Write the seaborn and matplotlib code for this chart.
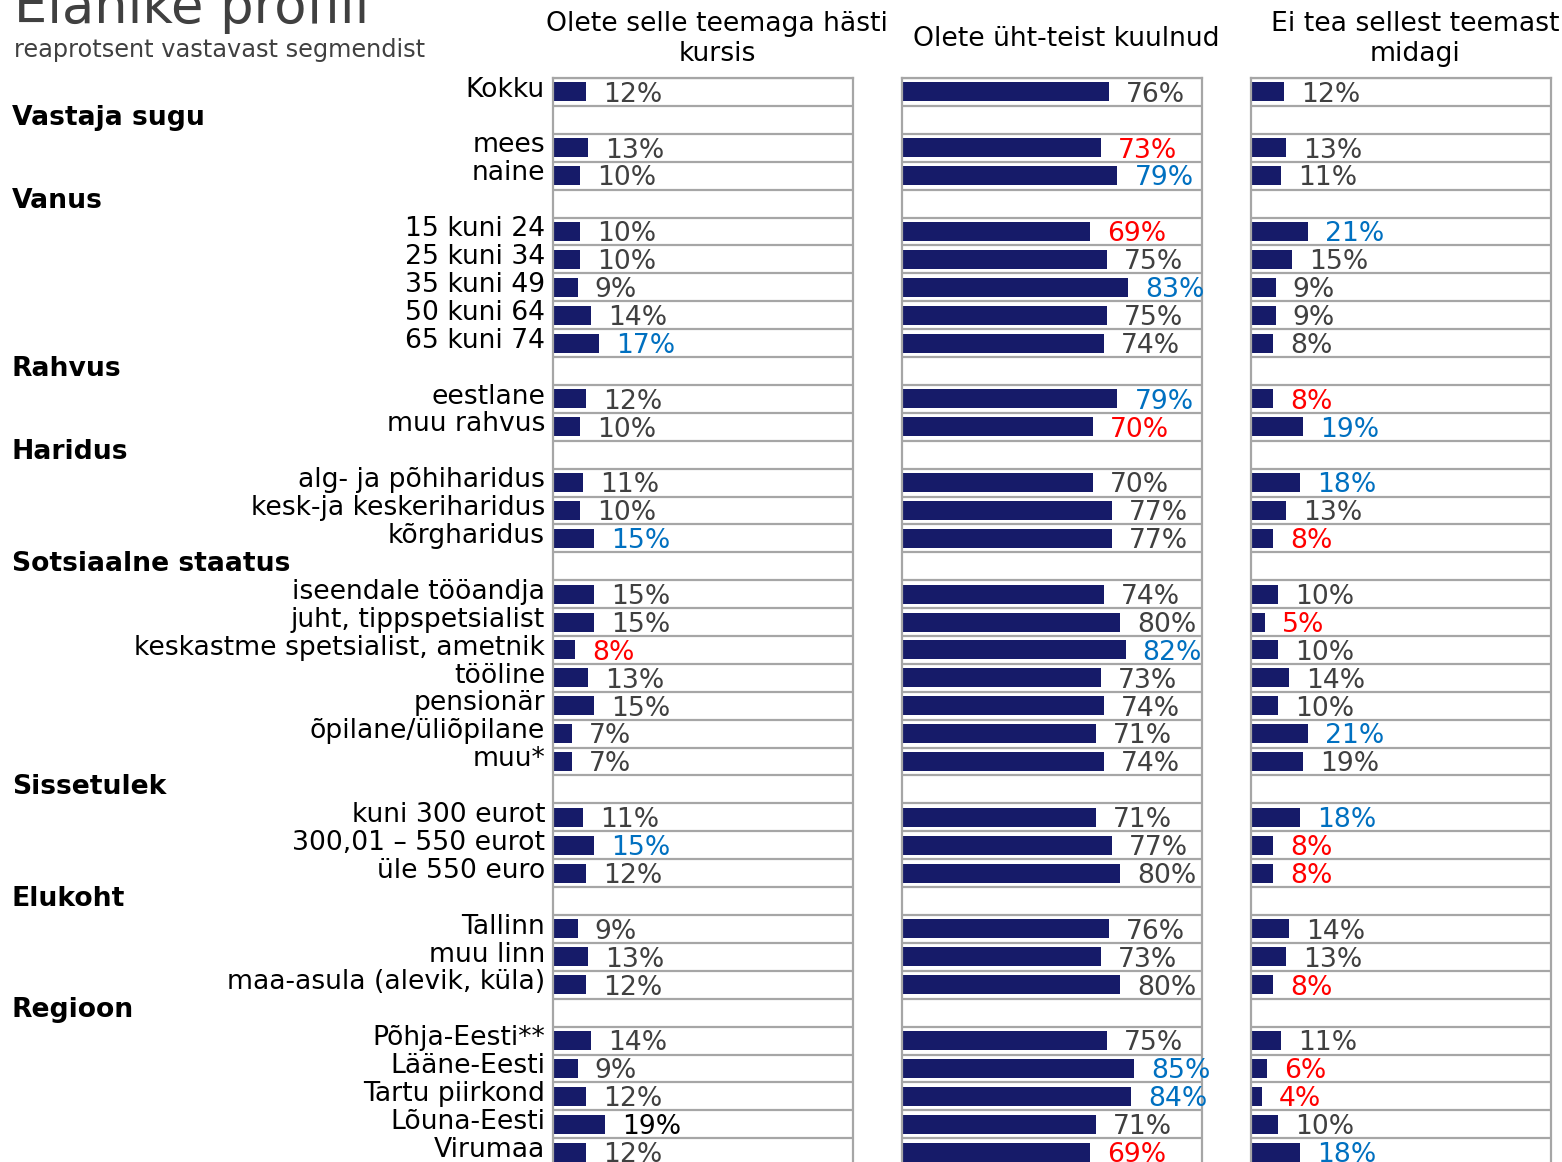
import matplotlib
matplotlib.use("Agg")
import pandas as pd
import matplotlib.pyplot as plt
import matplotlib.transforms as mtransforms
import seaborn as sns

# ── Config ────────────────────────────────────────────────────────
sns.set_theme(style="white")
plt.rcParams["font.family"] = ["DejaVu Sans"]

W, H = 1562, 1162
NAVY = "#161b69"
GRID = "#a6a6a6"
TXT_COLORS = {"n": "#404040", "r": "#ff0000", "b": "#0070c0", "k": "#000000"}
FS = 19.2

# ── Andmed ────────────────────────────────────────────────────────
TITLE = "Elanike profiil"
SUBTITLE = "reaprotsent vastavast segmendist"
COL_TITLES = ["Olete selle teemaga hästi\nkursis",
              "Olete üht-teist kuulnud",
              "Ei tea sellest teemast\nmidagi"]

TOTAL_LABEL = "Kokku"
GROUPS = ["Vastaja sugu", "Vanus", "Rahvus", "Haridus",
          "Sotsiaalne staatus", "Sissetulek", "Elukoht", "Regioon"]
SEGMENTS = [
    ["mees", "naine"],
    ["15 kuni 24", "25 kuni 34", "35 kuni 49", "50 kuni 64", "65 kuni 74"],
    ["eestlane", "muu rahvus"],
    ["alg- ja põhiharidus", "kesk-ja keskeriharidus", "kõrgharidus"],
    ["iseendale tööandja", "juht, tippspetsialist", "keskastme spetsialist, ametnik",
     "tööline", "pensionär", "õpilane/üliõpilane", "muu*"],
    ["kuni 300 eurot", "300,01 – 550 eurot", "üle 550 euro"],
    ["Tallinn", "muu linn", "maa-asula (alevik, küla)"],
    ["Põhja-Eesti**", "Lääne-Eesti", "Tartu piirkond", "Lõuna-Eesti", "Virumaa"],
]

# väärtused ridade järjekorras (Kokku + segmendid)
KURSIS  = [12, 13, 10, 10, 10, 9, 14, 17, 12, 10, 11, 10, 15,
           15, 15, 8, 13, 15, 7, 7, 11, 15, 12, 9, 13, 12, 14, 9, 12, 19, 12]
KUULNUD = [76, 73, 79, 69, 75, 83, 75, 74, 79, 70, 70, 77, 77,
           74, 80, 82, 73, 74, 71, 74, 71, 77, 80, 76, 73, 80, 75, 85, 84, 71, 69]
EI_TEA  = [12, 13, 11, 21, 15, 9, 9, 8, 8, 19, 18, 13, 8,
           10, 5, 10, 14, 10, 21, 19, 18, 8, 8, 14, 13, 8, 11, 6, 4, 10, 18]

# teksti värv: n = tavaline, r = punane, b = sinine, k = must
KURSIS_MARK  = list("n" "nn" "nnnnb" "nn" "nnb" "nnrnnnn" "nbn" "nnn" "nnnkn")
KUULNUD_MARK = list("n" "rb" "rnbnn" "br" "nnn" "nnbnnnn" "nnn" "nnn" "nbbnr")
EI_TEA_MARK  = list("n" "nn" "bnnnn" "rb" "bnr" "nrnnnbn" "brr" "nnr" "nrrnb")

# ── Ridade paigutus ──────────────────────────────────────────────
labels, headers = [], []
pos = 0
labels.append((pos, TOTAL_LABEL))
pos += 1
for g, segs in zip(GROUPS, SEGMENTS):
    headers.append((pos, g))
    pos += 1
    for s in segs:
        labels.append((pos, s))
        pos += 1
N_ROWS = pos

df = pd.DataFrame({
    "pos": [p for p, _ in labels],
    "label": [l for _, l in labels],
    "kursis": KURSIS, "kuulnud": KUULNUD, "ei_tea": EI_TEA,
    "kursis_mark": KURSIS_MARK, "kuulnud_mark": KUULNUD_MARK, "ei_tea_mark": EI_TEA_MARK,
})

# ── Joonis ────────────────────────────────────────────────────────
fig = plt.figure(figsize=(W / 100, H / 100), dpi=100)
fig.patch.set_facecolor("white")

pitch = 27.9
top_px = 78
ax_h = N_ROWS * pitch / H
ax_top = 1 - top_px / H
lefts = [553, 902, 1251]
metrics = ["kursis", "kuulnud", "ei_tea"]

axes = []
for left, metric, title in zip(lefts, metrics, COL_TITLES):
    ax = fig.add_axes([left / W, ax_top - ax_h, 300 / W, ax_h])
    for i in range(N_ROWS + 1):
        ax.axhline(i - 0.5, color=GRID, lw=1.6, zorder=0)
    sns.barplot(data=df, x=metric, y="pos", orient="h", native_scale=True,
                color=NAVY, saturation=1, width=0.68, errorbar=None,
                linewidth=0, ax=ax, zorder=2)
    ax.set_xlim(0, 110)
    ax.set_ylim(N_ROWS - 0.5, -0.5)
    ax.set_xticks([])
    ax.set_yticks([])
    ax.set_xlabel("")
    ax.set_ylabel("")
    for side in ["left", "right", "top"]:
        ax.spines[side].set_visible(True)
        ax.spines[side].set_color(GRID)
        ax.spines[side].set_linewidth(1.6)
    ax.spines["bottom"].set_visible(False)

    for _, r in df.iterrows():
        ax.annotate(f"{r[metric]}%", xy=(r[metric], r["pos"] + 0.35),
                    xytext=(12.3, 0), textcoords="offset points",
                    ha="left", va="baseline", fontsize=FS,
                    color=TXT_COLORS[r[metric + "_mark"]], annotation_clip=False)

    ax.annotate(title, xy=(0.547, 1), xycoords="axes fraction",
                xytext=(0, 28), textcoords="offset points",
                ha="center", va="center", multialignment="center",
                fontsize=FS, color="black")
    axes.append(ax)

# segmentide nimed ja grupi pealkirjad
ax0 = axes[0]
lab_tr = mtransforms.blended_transform_factory(ax0.transAxes, ax0.transData)
for p, l in labels:
    ax0.text(-8 / 300, p + 0.17, l, transform=lab_tr, ha="right", va="baseline",
             fontsize=FS, color="black", clip_on=False)

head_tr = mtransforms.blended_transform_factory(fig.transFigure, ax0.transData)
for p, g in headers:
    ax0.text(12 / W, p + 0.17, g, transform=head_tr, ha="left", va="baseline",
             fontsize=FS, fontweight="bold", color="black", clip_on=False)

fig.text(14 / W, 1 - 23 / H, TITLE, fontsize=38, color="#404040",
         ha="left", va="baseline")
fig.text(14 / W, 1 - 57 / H, SUBTITLE, fontsize=17.3, color="#404040",
         ha="left", va="baseline")

fig.savefig("out.png", dpi=100, facecolor="white")
plt.close(fig)
